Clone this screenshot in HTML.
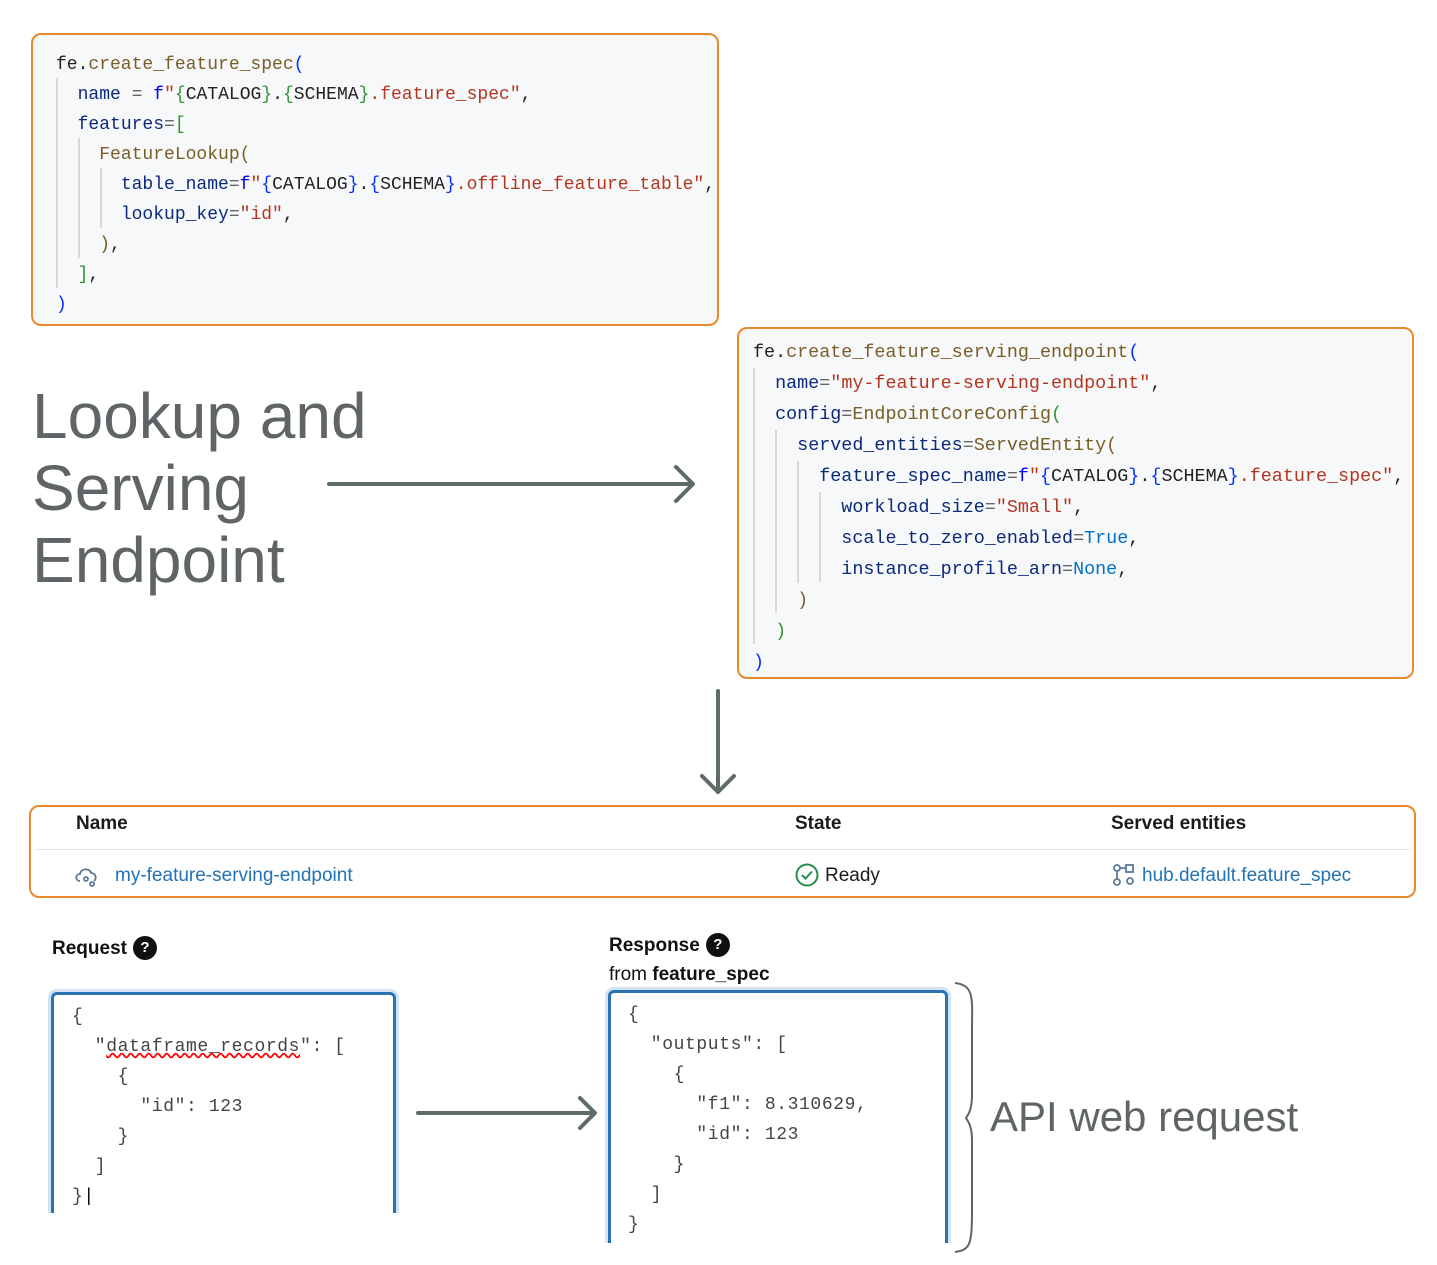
<!DOCTYPE html>
<html><head><meta charset="utf-8"><style>
body{margin:0;width:1437px;height:1265px;background:#fff;position:relative;overflow:hidden;font-family:"Liberation Sans",sans-serif}
.box{position:absolute;border:2px solid #e8892b;border-radius:10px;background:#f6f8fa;box-sizing:border-box}
.code{position:absolute;font-family:"Liberation Mono",monospace;white-space:pre;color:#222}
.ln{position:absolute;left:0;white-space:pre}
.g{position:absolute;width:2px;background:#d8d8d8}
.n{color:#0b2a7a}.f{color:#795e26}.b{color:#0431fa}.s{color:#b5361f}.q{color:#0000ff}.gr{color:#319331}.c{color:#0070c1}.e{color:#666}
.wrap{position:absolute;overflow:hidden}
.json{position:absolute;left:3px;top:3px;right:3px;bottom:-10px;border:3px solid #2a72b5;border-radius:6px 6px 0 0;box-shadow:0 0 0 3px #d3e3f3;background:#fff;box-sizing:border-box}
.jt{position:absolute;font-family:"Liberation Mono",monospace;font-size:18px;color:#444;white-space:pre;letter-spacing:0.6px}
.big{position:absolute;color:#5f6466;font-size:64px;line-height:72px}
.q2{display:inline-block;width:24px;height:24px;border-radius:50%;background:#111;color:#fff;font-size:15px;text-align:center;line-height:24px;font-weight:bold;vertical-align:2px;margin-left:6px}
</style></head><body>

<div class="box" style="left:31px;top:33px;width:688px;height:293px"></div>
<div class="g" style="left:56px;top:78px;height:210px"></div>
<div class="g" style="left:78px;top:138px;height:120px"></div>
<div class="g" style="left:100px;top:168px;height:60px"></div>
<div class="code" style="left:56px;top:50px;font-size:18px;line-height:30px">
<div class="ln" style="top:0">fe.<span class="f">create_feature_spec</span><span class="b">(</span></div>
<div class="ln" style="top:30px">  <span class="n">name</span> <span class="e">=</span> <span class="q">f</span><span class="s">"</span><span class="gr">{</span>CATALOG<span class="gr">}</span>.<span class="gr">{</span>SCHEMA<span class="gr">}</span><span class="s">.feature_spec"</span>,</div>
<div class="ln" style="top:60px">  <span class="n">features</span><span class="e">=</span><span class="gr">[</span></div>
<div class="ln" style="top:90px">    <span class="f">FeatureLookup(</span></div>
<div class="ln" style="top:120px">      <span class="n">table_name</span><span class="e">=</span><span class="q">f</span><span class="s">"</span><span class="b">{</span>CATALOG<span class="b">}</span>.<span class="b">{</span>SCHEMA<span class="b">}</span><span class="s">.offline_feature_table"</span>,</div>
<div class="ln" style="top:150px">      <span class="n">lookup_key</span><span class="e">=</span><span class="s">"id"</span>,</div>
<div class="ln" style="top:180px">    <span class="f">)</span>,</div>
<div class="ln" style="top:210px">  <span class="gr">]</span>,</div>
<div class="ln" style="top:240px"><span class="b">)</span></div>
</div>

<div class="big" style="left:32px;top:380px">Lookup and<br>Serving<br>Endpoint</div>

<svg style="position:absolute;left:0;top:0" width="1437" height="1265">
<g stroke="#5f6b6b" stroke-width="4" fill="none" stroke-linecap="round" stroke-linejoin="round">
<line x1="329" y1="484" x2="692" y2="484"/><polyline points="676,467 693,484 676,501"/>
<line x1="718" y1="691" x2="718" y2="792"/><polyline points="702,776 718,792 734,776"/>
<line x1="418" y1="1113" x2="594" y2="1113"/><polyline points="580,1098 595,1113 580,1128"/>
</g>
<path d="M955,983 C975,985 972,1000 972,1030 L972,1095 C972,1110 968,1115 966,1118 C968,1121 972,1126 972,1140 L972,1210 C972,1245 970,1250 955,1252" stroke="#5f6466" stroke-width="2" fill="none"/>
</svg>

<div class="box" style="left:737px;top:327px;width:677px;height:352px"></div>
<div class="g" style="left:753px;top:368px;height:276px"></div>
<div class="g" style="left:775px;top:430px;height:182px"></div>
<div class="g" style="left:797px;top:461px;height:122px"></div>
<div class="g" style="left:819px;top:492px;height:90px"></div>
<div class="code" style="left:753px;top:337px;font-size:18.4px;line-height:31px">
<div class="ln" style="top:0">fe.<span class="f">create_feature_serving_endpoint</span><span class="b">(</span></div>
<div class="ln" style="top:31px">  <span class="n">name</span><span class="e">=</span><span class="s">"my-feature-serving-endpoint"</span>,</div>
<div class="ln" style="top:62px">  <span class="n">config</span><span class="e">=</span><span class="f">EndpointCoreConfig</span><span class="gr">(</span></div>
<div class="ln" style="top:93px">    <span class="n">served_entities</span><span class="e">=</span><span class="f">ServedEntity(</span></div>
<div class="ln" style="top:124px">      <span class="n">feature_spec_name</span><span class="e">=</span><span class="q">f</span><span class="s">"</span><span class="b">{</span>CATALOG<span class="b">}</span>.<span class="b">{</span>SCHEMA<span class="b">}</span><span class="s">.feature_spec"</span>,</div>
<div class="ln" style="top:155px">        <span class="n">workload_size</span><span class="e">=</span><span class="s">"Small"</span>,</div>
<div class="ln" style="top:186px">        <span class="n">scale_to_zero_enabled</span><span class="e">=</span><span class="c">True</span>,</div>
<div class="ln" style="top:217px">        <span class="n">instance_profile_arn</span><span class="e">=</span><span class="c">None</span>,</div>
<div class="ln" style="top:248px">    <span class="f">)</span></div>
<div class="ln" style="top:279px">  <span class="gr">)</span></div>
<div class="ln" style="top:310px"><span class="b">)</span></div>
</div>

<div class="box" style="left:29px;top:805px;width:1387px;height:93px;background:#fff"></div>
<div style="position:absolute;left:35px;top:849px;width:1375px;height:1px;background:#e6e6e6"></div>
<div style="position:absolute;top:813px;font-size:19px;font-weight:bold;color:#1b1b1b;left:76px">Name</div>
<div style="position:absolute;top:813px;font-size:19px;font-weight:bold;color:#1b1b1b;left:795px">State</div>
<div style="position:absolute;top:813px;font-size:19px;font-weight:bold;color:#1b1b1b;left:1111px">Served entities</div>
<svg style="position:absolute;left:74px;top:864px" width="26" height="24"><g fill="none" stroke="#5a7a9a" stroke-width="1.8"><path d="M6,17 C1,17 1,10 6,10 C7,4 16,4 17,9 C22,9 23,15 20,17"/><circle cx="12" cy="15" r="2"/><circle cx="18" cy="20" r="2"/></g></svg>
<div style="position:absolute;left:115px;top:865px;font-size:19px;color:#2272b4">my-feature-serving-endpoint</div>
<svg style="position:absolute;left:795px;top:863px" width="24" height="24"><circle cx="12" cy="12" r="10.5" fill="none" stroke="#2d8a4e" stroke-width="2"/><path d="M7,12 L10.5,15.5 L17,8.5" fill="none" stroke="#2d8a4e" stroke-width="2"/></svg>
<div style="position:absolute;left:825px;top:865px;font-size:19px;color:#1b1b1b">Ready</div>
<svg style="position:absolute;left:1112px;top:863px" width="24" height="24"><g fill="none" stroke="#5a7a9a" stroke-width="1.8"><circle cx="5" cy="5" r="3"/><circle cx="5" cy="19" r="3"/><rect x="14" y="2" width="7" height="7"/><circle cx="18" cy="18" r="3"/><path d="M5,8 V16 M8,5 H14"/></g></svg>
<div style="position:absolute;left:1142px;top:865px;font-size:19px;color:#2272b4">hub.default.feature_spec</div>

<div style="position:absolute;left:52px;top:936px;font-size:19px;font-weight:bold;color:#111">Request<span class="q2">?</span></div>
<div style="position:absolute;left:609px;top:933px;font-size:19px;font-weight:bold;color:#111">Response<span class="q2">?</span></div>
<div style="position:absolute;left:609px;top:964px;font-size:19px;color:#111">from <b>feature_spec</b></div>

<div class="wrap" style="left:48px;top:989px;width:351px;height:224px"><div class="json"></div></div>
<div class="jt" style="left:72px;top:1002px;line-height:30px">{
  "<span style="text-decoration:underline wavy red">dataframe_records</span>": [
    {
      "id": 123
    }
  ]
}<span style="color:#000">|</span></div>

<div class="wrap" style="left:605px;top:987px;width:346px;height:256px"><div class="json"></div></div>
<div class="jt" style="left:628px;top:1000px;line-height:30px">{
  "outputs": [
    {
      "f1": 8.310629,
      "id": 123
    }
  ]
}</div>

<div style="position:absolute;left:990px;top:1093px;font-size:42px;color:#5f6466">API web request</div>
</body></html>
